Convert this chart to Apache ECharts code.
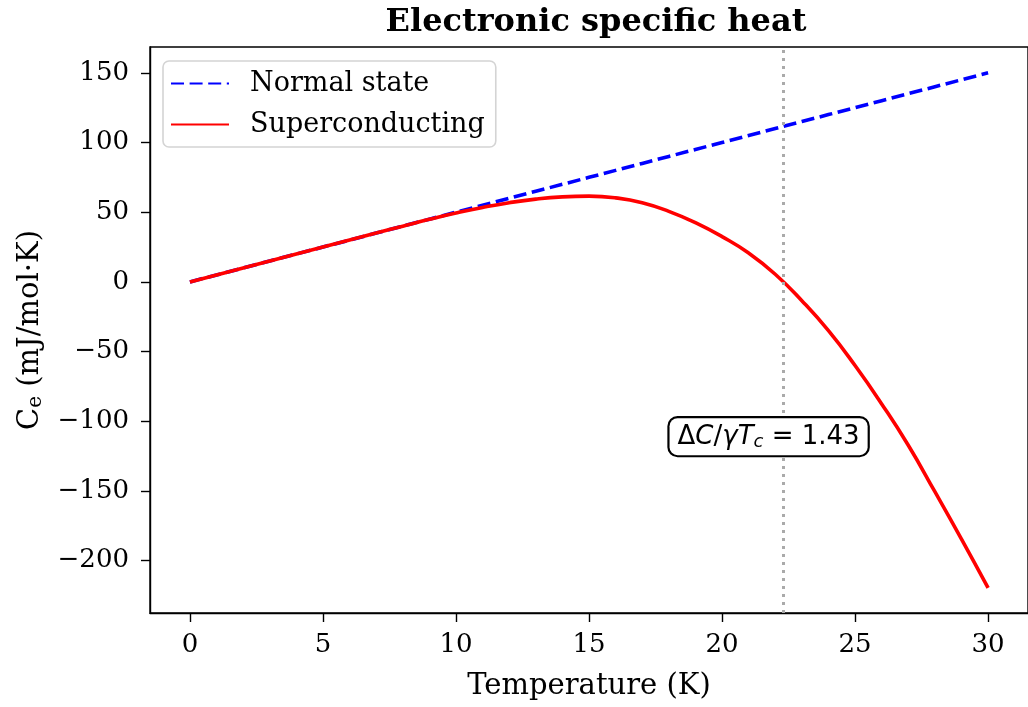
<!DOCTYPE html>
<html>
<head>
<meta charset="utf-8">
<script src="https://cdn.jsdelivr.net/npm/echarts@6/dist/echarts.min.js"></script>
<style>
  html, body { margin: 0; padding: 0; background: #ffffff; }
  #chart { width: 1028px; height: 707px; }
</style>
</head>
<body>
<div id="chart"></div>
<script>
// Temperature grid (K)
const temperature = [0, 1, 2, 3, 4, 5, 6, 7, 8, 9, 10, 11, 12, 13, 14, 15,
                     16, 17, 18, 19, 20, 21, 22, 23, 24, 25, 26, 27, 28, 29, 30];
// Normal-state electronic specific heat (mJ/mol·K)
const normalState = [0, 5, 10, 15, 20, 25, 30, 35, 40, 45, 50, 55, 60, 65, 70, 75,
                     80, 85, 90, 95, 100, 105, 110, 115, 120, 125, 130, 135, 140, 145, 150];
// Superconducting-state electronic specific heat (mJ/mol·K)
const superconducting = [0, 5, 10, 15, 20, 25, 30, 35, 40, 44.9, 49.4, 53.4, 56.8, 59.4, 61.0, 61.5,
                         60.3, 56.8, 50.6, 42.5, 32.5, 20.7, 5.5, -13.5, -35, -60, -87.5, -117.2, -150.5, -184.5, -219.5];
// Critical temperature and jump ratio
const criticalTemperature = 22.3;
const jumpRatio = 1.43;
const jumpLabelAt = [21.75, -111];
// Tick labels
const xTicks = [0, 5, 10, 15, 20, 25, 30];
const yTicks = [-200, -150, -100, -50, 0, 50, 100, 150];

const serif = 'DejaVu Serif';
const minusFmt = v => (v < 0 ? '\u2212' + Math.abs(v) : String(v));

const chart = echarts.init(document.getElementById('chart'));

chart.setOption({
  animation: false,
  backgroundColor: '#ffffff',
  title: {
    text: 'Electronic specific heat',
    left: 591,
    textAlign: 'center',
    top: 2,
    textStyle: { fontFamily: serif, fontWeight: 'bold', fontSize: 32, color: '#000' }
  },
  grid: {
    left: 150, width: 882, top: 47, height: 566,
    show: true, borderColor: '#000', borderWidth: 1.4, backgroundColor: 'transparent'
  },
  legend: {
    orient: 'vertical',
    left: 163, top: 61,
    itemWidth: 58, itemHeight: 14, itemGap: 14,
    padding: [9, 11, 9, 7],
    backgroundColor: '#ffffff',
    borderColor: '#d4d4d4', borderWidth: 1.6, borderRadius: 6,
    itemStyle: { opacity: 0 },
    textStyle: { fontFamily: serif, fontSize: 27, color: '#000', padding: [0, 0, 0, 16] },
    data: ['Normal state', 'Superconducting']
  },
  xAxis: {
    type: 'value',
    min: -1.5, max: 31.5,
    name: 'Temperature (K)',
    nameLocation: 'middle',
    nameGap: 59,
    nameTextStyle: { fontFamily: serif, fontSize: 29, color: '#000' },
    axisLine: { show: true, onZero: false, lineStyle: { color: '#000', width: 1.4 } },
    axisTick: { show: true, length: 9, lineStyle: { color: '#000', width: 1.4 }, customValues: xTicks },
    axisLabel: { fontFamily: serif, fontSize: 26, color: '#000', margin: 19, customValues: xTicks },
    splitLine: { show: false }
  },
  yAxis: {
    type: 'value',
    min: -237.5, max: 168.5,
    name: 'C{sub|e} (mJ/mol·K)',
    nameLocation: 'middle',
    nameGap: 104,
    nameTextStyle: {
      fontFamily: serif, fontSize: 29, color: '#000',
      rich: { sub: { fontFamily: serif, fontSize: 20, color: '#000', padding: [11, 0, 0, 0] } }
    },
    axisLine: { show: true, onZero: false, lineStyle: { color: '#000', width: 1.4 } },
    axisTick: { show: true, length: 9, lineStyle: { color: '#000', width: 1.4 }, customValues: yTicks },
    axisLabel: { fontFamily: serif, fontSize: 26, color: '#000', margin: 21, customValues: yTicks, formatter: minusFmt },
    splitLine: { show: false }
  },
  series: [
    {
      name: 'Normal state',
      type: 'line',
      symbol: 'none',
      data: temperature.map((t, i) => [t, normalState[i]]),
      lineStyle: { color: '#0000ff', width: 3.6, type: [13, 5.6] },
      itemStyle: { color: '#0000ff' },
      markLine: {
        silent: true,
        symbol: 'none',
        label: { show: false },
        lineStyle: { color: '#aaaaaa', width: 3, type: [3, 5] },
        data: [{ xAxis: criticalTemperature }]
      },
      z: 2
    },
    {
      name: 'Superconducting',
      type: 'line',
      symbol: 'none',
      smooth: 0.5,
      data: temperature.map((t, i) => [t, superconducting[i]]),
      lineStyle: { color: '#ff0000', width: 3.6 },
      itemStyle: { color: '#ff0000' },
      markPoint: {
        silent: true,
        symbol: 'rect',
        symbolSize: 1,
        itemStyle: { color: 'rgba(0,0,0,0)' },
        label: {
          show: true,
          position: 'inside',
          formatter: '{u|\u0394}{i|C}{u|/}{i|\u03b3T}{s|c}{u| = ' + jumpRatio.toFixed(2) + '}',
          backgroundColor: '#ffffff',
          borderColor: '#000000', borderWidth: 2.2, borderRadius: 8,
          padding: [5, 8, 4, 8],
          rich: {
            u: { fontFamily: 'DejaVu Sans', fontSize: 26, color: '#000' },
            i: { fontFamily: 'DejaVu Sans', fontStyle: 'italic', fontSize: 26, color: '#000' },
            s: { fontFamily: 'DejaVu Sans', fontStyle: 'italic', fontSize: 18, color: '#000', padding: [10, 0, 0, 0] }
          }
        },
        data: [{ coord: jumpLabelAt }]
      },
      z: 3
    }
  ]
});
</script>
</body>
</html>
